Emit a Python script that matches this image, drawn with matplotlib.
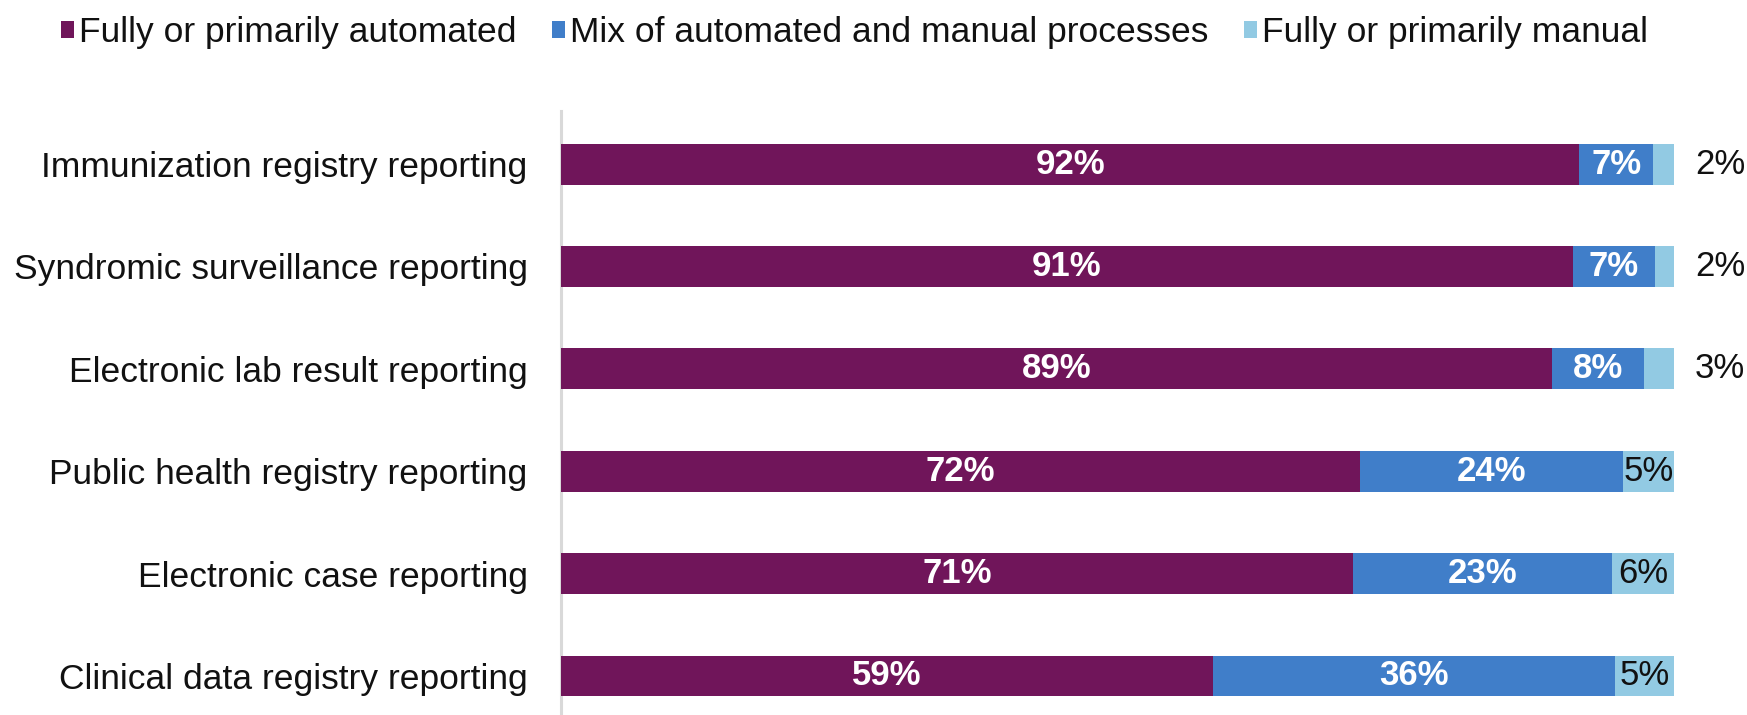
import matplotlib
matplotlib.use('Agg')
import matplotlib.pyplot as plt
from matplotlib.patches import Patch

# Survey data (percent of respondents)
categories = ['Immunization registry reporting', 'Syndromic surveillance reporting',
              'Electronic lab result reporting', 'Public health registry reporting',
              'Electronic case reporting', 'Clinical data registry reporting']
automated = [91.5, 90.9, 89.0, 71.8, 71.2, 58.6]
mixed = [6.6, 7.4, 8.3, 23.6, 23.2, 36.1]
manual = [1.9, 1.7, 2.7, 4.6, 5.6, 5.3]
series_names = ['Fully or primarily automated', 'Mix of automated and manual processes',
                'Fully or primarily manual']

colors = ['#70155A', '#407EC9', '#92CAE3']

plt.rcParams['font.family'] = ['Liberation Sans', 'DejaVu Sans']
FS = 25.5    # category + legend text
FS_BAR = 25  # data labels


def main():
    fig = plt.figure(figsize=(17.47, 7.15), dpi=100)
    ax = fig.add_axes([561 / 1747, 0, (1674 - 561) / 1747, 1 - 111 / 715])

    ypos = list(range(len(categories)))
    h = 0.40
    ax.barh(ypos, automated, height=h, color=colors[0], zorder=3)
    ax.barh(ypos, mixed, left=automated, height=h, color=colors[1], zorder=3)
    left2 = [a + m for a, m in zip(automated, mixed)]
    ax.barh(ypos, manual, left=left2, height=h, color=colors[2], zorder=3)

    # labels inside the segments
    for i in ypos:
        ax.text(automated[i] / 2, i, '{:.0f}%'.format(automated[i]), color='white',
                fontsize=FS_BAR, fontweight='bold', ha='center', va='center', zorder=4)
        ax.text(automated[i] + mixed[i] / 2, i, '{:.0f}%'.format(mixed[i]), color='white',
                fontsize=FS_BAR, fontweight='bold', ha='center', va='center', zorder=4)
        if manual[i] < 4:  # too thin, put label past the end of the bar
            ax.annotate('{:.0f}%'.format(manual[i]), xy=(left2[i] + manual[i], i),
                        xytext=(15, 0), textcoords='offset points', color='#111111',
                        fontsize=FS_BAR, ha='left', va='center', annotation_clip=False)
        else:
            ax.text(left2[i] + manual[i] / 2, i, '{:.0f}%'.format(manual[i]), color='#111111',
                    fontsize=FS_BAR, ha='center', va='center', zorder=4)

    ax.set_xlim(0, 100)
    ax.set_ylim(5.381, -0.518)
    ax.set_yticks(ypos)
    ax.set_yticklabels(categories, fontsize=FS, color='#111111')
    ax.tick_params(axis='y', length=0, pad=24)
    ax.set_xticks([])
    for s in ['top', 'right', 'bottom']:
        ax.spines[s].set_visible(False)
    ax.spines['left'].set_color('#D9D9D9')
    ax.spines['left'].set_linewidth(2.2)
    ax.spines['left'].set_zorder(1)

    handles = [Patch(facecolor=c, edgecolor='none') for c in colors]
    fig.legend(handles, series_names, loc='upper left', bbox_to_anchor=(61 / 1747, 0.978),
               ncol=3, frameon=False, fontsize=FS, handlelength=0.36, handleheight=0.36,
               handletextpad=0.15, columnspacing=1.0, borderpad=0, borderaxespad=0,
               labelcolor='#111111')

    fig.savefig('out.png', dpi=100)


if __name__ == "__main__":
    main()
